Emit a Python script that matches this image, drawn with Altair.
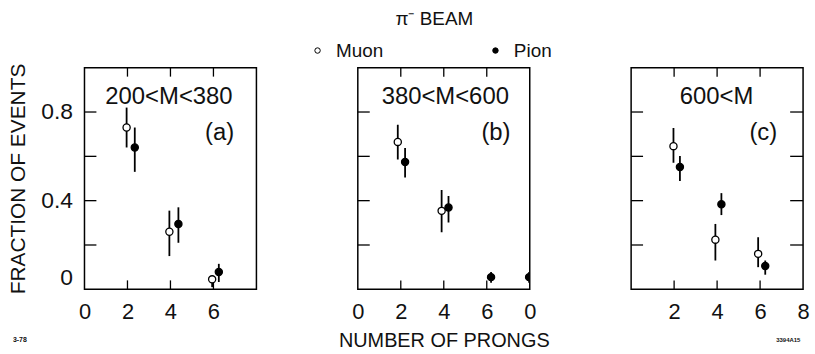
import altair as alt
import pandas as pd

# Fraction of events versus number of charged prongs, pi- beam,
# three dimuon/dipion mass bins. Points are offset a little in x so the
# muon and pion measurements at the same multiplicity sit side by side.

mass_labels = ["200<M<380", "380<M<600", "600<M"]
panel_tags = ["(a)", "(b)", "(c)"]

# panel (a): 200 < M < 380
muon_x_a = [1.96, 3.95, 5.94]
muon_y_a = [0.73, 0.26, 0.045]
muon_lo_a = [0.64, 0.15, 0.01]
muon_hi_a = [0.82, 0.355, 0.06]
pion_x_a = [2.34, 4.37, 6.25]
pion_y_a = [0.64, 0.295, 0.078]
pion_lo_a = [0.53, 0.21, 0.033]
pion_hi_a = [0.73, 0.37, 0.115]

# panel (b): 380 < M < 600
muon_x_b = [1.86, 3.9]
muon_y_b = [0.665, 0.354]
muon_lo_b = [0.586, 0.257]
muon_hi_b = [0.743, 0.448]
pion_x_b = [2.2, 4.22, 6.2, 7.97]
pion_y_b = [0.574, 0.369, 0.055, 0.055]
pion_lo_b = [0.504, 0.302, 0.03, 0.03]
pion_hi_b = [0.638, 0.421, 0.078, 0.078]

# panel (c): 600 < M
muon_x_c = [1.97, 3.92, 5.91]
muon_y_c = [0.646, 0.224, 0.16]
muon_lo_c = [0.571, 0.13, 0.1]
muon_hi_c = [0.728, 0.295, 0.235]
pion_x_c = [2.27, 4.2, 6.24]
pion_y_c = [0.552, 0.384, 0.105]
pion_lo_c = [0.489, 0.335, 0.066]
pion_hi_c = [0.601, 0.434, 0.13]

# axis tick values
y_label_values = [0, 0.4, 0.8]
y_tick_values = [0.2, 0.4, 0.6, 0.8]
x_tick_values = [2, 4, 6]
x_labels_a = [0, 2, 4, 6]
x_labels_b = [0, 2, 4, 6, 8]
x_labels_c = [2, 4, 6, 8]

FONT = "Liberation Sans"
INK = "#111111"
W, H = 173, 223


def frame(mx, my, mlo, mhi, px, py, plo, phi):
    rows = []
    for x, y, lo, hi in zip(mx, my, mlo, mhi):
        rows.append({"prongs": x, "frac": y, "lo": lo, "hi": hi, "series": "Muon"})
    for x, y, lo, hi in zip(px, py, plo, phi):
        rows.append({"prongs": x, "frac": y, "lo": lo, "hi": hi, "series": "Pion"})
    return pd.DataFrame(rows)


def panel(df, mass, tag, x_values, x_expr, x_title, show_y, legend,
          right_ticks, clip, mass_x, tag_x, note=None):
    xs = alt.Scale(domain=[0, 8], nice=False, zero=False)
    ys = alt.Scale(domain=[0, 1], nice=False)

    x_axis = alt.Axis(values=x_values, ticks=False, domain=False, grid=False,
                      labelFontSize=22, labelPadding=12, labelFlush=False,
                      labelColor=INK, labelExpr=x_expr,
                      title=x_title if x_title else "", titleFontSize=20,
                      titleFontWeight="normal", titlePadding=9, titleColor=INK)
    if show_y:
        y_axis = alt.Axis(values=y_label_values, ticks=False, domain=False,
                          grid=False, labelFontSize=23, labelPadding=12,
                          labelFlush=True, labelColor=INK,
                          labelExpr="datum.value == 0 ? '0' : datum.label",
                          title="FRACTION OF EVENTS", titleFontSize=21,
                          titleFontWeight="normal", titlePadding=12,
                          titleColor=INK)
    else:
        y_axis = None

    def X(field):
        return alt.X(field, type="quantitative", scale=xs, axis=x_axis)

    def Y(field):
        return alt.Y(field, type="quantitative", scale=ys, axis=y_axis)

    fill = alt.Fill("series:N",
                    scale=alt.Scale(domain=["Muon", "Pion"], range=["white", "black"]),
                    legend=legend)

    base = alt.Chart(df)
    bars = base.mark_rule(color="black", strokeWidth=1.8, clip=clip).encode(
        x=X("prongs"), y=Y("lo"), y2="hi")
    dots = base.mark_point(filled=True, size=52, stroke="black", strokeWidth=1.3,
                           opacity=1, shape="circle", clip=clip).encode(
        x=X("prongs"), y=Y("frac"), fill=fill)

    yt = pd.DataFrame({"v": y_tick_values})
    xt = pd.DataFrame({"v": x_tick_values})
    layers = [
        alt.Chart(yt).mark_rule(color="black", strokeWidth=1.3).encode(
            y=Y("v"), x=alt.value(0), x2=alt.value(12)),
        alt.Chart(xt).mark_rule(color="black", strokeWidth=1.3).encode(
            x=X("v"), y=alt.value(H), y2=alt.value(H - 9)),
        alt.Chart(xt).mark_rule(color="black", strokeWidth=1.3).encode(
            x=X("v"), y=alt.value(0), y2=alt.value(9)),
    ]
    if right_ticks:
        layers.append(alt.Chart(yt).mark_rule(color="black", strokeWidth=1.3).encode(
            y=Y("v"), x=alt.value(W - 13), x2=alt.value(W)))

    words = pd.DataFrame({"t": [mass]})
    layers.append(alt.Chart(words).mark_text(
        font=FONT, fontSize=24, color=INK, align="center", baseline="middle").encode(
        text="t:N", x=alt.value(mass_x), y=alt.value(30)))
    tags = pd.DataFrame({"t": [tag]})
    layers.append(alt.Chart(tags).mark_text(
        font=FONT, fontSize=24, color=INK, align="center", baseline="middle").encode(
        text="t:N", x=alt.value(tag_x), y=alt.value(66)))
    if note is not None:
        layers.append(note)

    layers += [bars, dots]
    return alt.layer(*layers).properties(width=W, height=H)


df_a = frame(muon_x_a, muon_y_a, muon_lo_a, muon_hi_a,
             pion_x_a, pion_y_a, pion_lo_a, pion_hi_a)
df_b = frame(muon_x_b, muon_y_b, muon_lo_b, muon_hi_b,
             pion_x_b, pion_y_b, pion_lo_b, pion_hi_b)
df_c = frame(muon_x_c, muon_y_c, muon_lo_c, muon_hi_c,
             pion_x_c, pion_y_c, pion_lo_c, pion_hi_c)

beam = alt.Chart(pd.DataFrame({"t": ["\u03c0\u207b   BEAM"]})).mark_text(
    font=FONT, fontSize=19, color=INK, align="center", baseline="top").encode(
    text="t:N", x=alt.value(77), y=alt.value(-58))

date_note = alt.Chart(pd.DataFrame({"t": ["3-78"]})).mark_text(
    font=FONT, fontSize=7, fontWeight="bold", color=INK, align="left",
    baseline="middle").encode(text="t:N", x=alt.value(-72), y=alt.value(274))

fig_note = alt.Chart(pd.DataFrame({"t": ["3394A15"]})).mark_text(
    font=FONT, fontSize=6, fontWeight="bold", color=INK, align="left",
    baseline="middle").encode(text="t:N", x=alt.value(146), y=alt.value(274))

series_legend = alt.Legend(
    orient="none", legendX=-50, legendY=-27, direction="horizontal", title=None,
    labelFont=FONT, labelFontSize=19, labelColor=INK, symbolType="circle",
    symbolSize=30, symbolStrokeColor="black", symbolStrokeWidth=1,
    columnPadding=103, labelOffset=9, padding=0)

pa = panel(df_a, mass_labels[0], panel_tags[0], x_labels_a, "datum.label", None,
           True, None, False, False, 85, 136, note=date_note)
pb = panel(df_b, mass_labels[1], panel_tags[1], x_labels_b,
           "datum.value == 8 ? '0' : datum.label", "NUMBER OF PRONGS",
           False, series_legend, False, True, 88, 139, note=beam)
pc = panel(df_c, mass_labels[2], panel_tags[2], x_labels_c, "datum.label", None,
           False, None, True, False, 86, 133, note=fig_note)

chart = (
    alt.hconcat(pa, pb, pc, spacing=102, bounds="flush")
    .resolve_legend(fill="independent")
    .properties(padding={"left": 7, "top": 8, "right": 5, "bottom": 5},
                background="white")
    .configure(font=FONT)
    .configure_view(stroke="black", strokeWidth=1.5)
)

chart.save("out.html", embed_options={"renderer": "svg", "actions": False})
